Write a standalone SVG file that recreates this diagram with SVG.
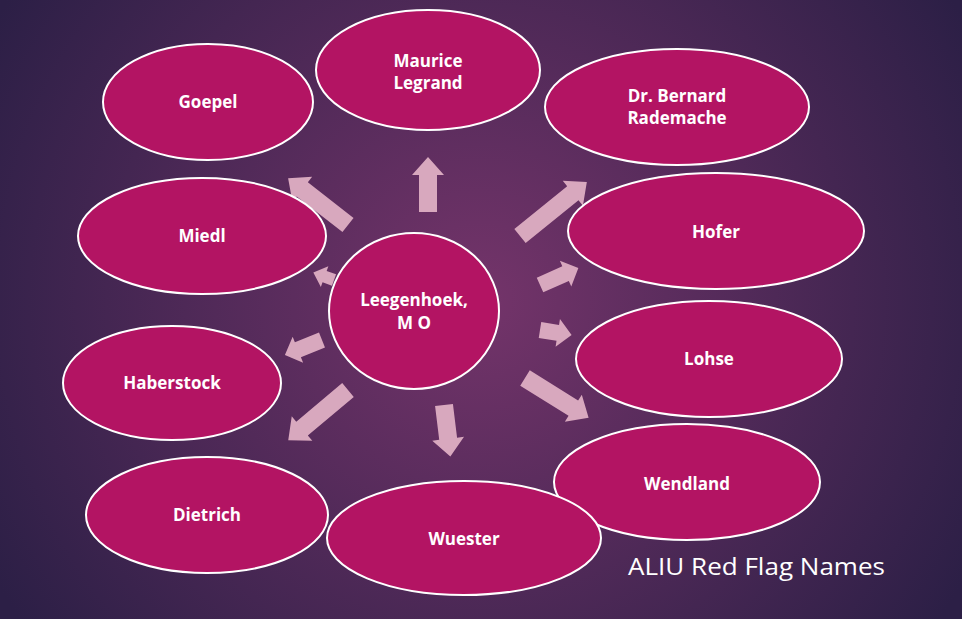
<svg xmlns="http://www.w3.org/2000/svg" width="962" height="619" viewBox="0 0 962 619">
<defs>
<radialGradient id="bg" cx="480" cy="300" r="560" gradientUnits="userSpaceOnUse">
<stop offset="0" stop-color="#74346a"/>
<stop offset="1" stop-color="#2c1f46"/>
</radialGradient>
<style>
.n{fill:#b31463;stroke:#fff;stroke-width:2}
.t{fill:#fff;font-family:"Open Sans","Liberation Sans",sans-serif;font-weight:bold;font-size:17px;text-anchor:middle}
.a{fill:#d8a8be}
</style>
</defs>
<rect width="962" height="619" fill="url(#bg)"/>
<g id="connectors">
<polygon class="a" transform="translate(428,212) rotate(-90)" points="0,-9 37,-9 37,-16 55,0 37,16 37,9 0,9"/>
<polygon class="a" transform="translate(348,225) rotate(-142)" points="0,-9 58,-9 58,-16 76,0 58,16 58,9 0,9"/>
<polygon class="a" transform="translate(520,236) rotate(-39)" points="0,-9 68,-9 68,-16 86,0 68,16 68,9 0,9"/>
<polygon class="a" transform="translate(540,285) rotate(-24)" points="0,-8 28,-8 28,-14 42,0 28,14 28,8 0,8"/>
<polygon class="a" transform="translate(540,330) rotate(9)" points="0,-8 18,-8 18,-14 32,0 18,14 18,8 0,8"/>
<polygon class="a" transform="translate(525,378) rotate(32)" points="0,-9 57,-9 57,-16 75,0 57,16 57,9 0,9"/>
<polygon class="a" transform="translate(444,405) rotate(83)" points="0,-9 34,-9 34,-16 52,0 34,16 34,9 0,9"/>
<polygon class="a" transform="translate(348,390) rotate(140)" points="0,-9 60,-9 60,-16 78,0 60,16 60,9 0,9"/>
<polygon class="a" transform="translate(322,340) rotate(158)" points="0,-8 26,-8 26,-14 40,0 26,14 26,8 0,8"/>
<polygon class="a" transform="translate(334,280) rotate(200)" points="0,-6 10,-6 10,-11 22,0 10,11 10,6 0,6"/>
</g>
<g id="goepel"><ellipse class="n" cx="208" cy="102" rx="105" ry="58"/><text class="t" x="208" y="108">Goepel</text></g>
<g id="legrand"><ellipse class="n" cx="428" cy="70" rx="112" ry="60"/><text class="t" x="428" y="67">Maurice</text><text class="t" x="428" y="89">Legrand</text></g>
<g id="rademache"><ellipse class="n" cx="677" cy="107" rx="132" ry="58"/><text class="t" x="677" y="102">Dr. Bernard</text><text class="t" x="677" y="124">Rademache</text></g>
<g id="hofer"><ellipse class="n" cx="716" cy="231" rx="148" ry="58"/><text class="t" x="716" y="238">Hofer</text></g>
<g id="lohse"><ellipse class="n" cx="709" cy="359" rx="133" ry="58"/><text class="t" x="709" y="365">Lohse</text></g>
<g id="wendland"><ellipse class="n" cx="687" cy="482" rx="133" ry="58"/><text class="t" x="687" y="490">Wendland</text></g>
<g id="wuester"><ellipse class="n" cx="464" cy="538" rx="137" ry="57"/><text class="t" x="464" y="545">Wuester</text></g>
<g id="dietrich"><ellipse class="n" cx="207" cy="515" rx="121" ry="58"/><text class="t" x="207" y="521">Dietrich</text></g>
<g id="haberstock"><ellipse class="n" cx="172" cy="383" rx="109" ry="57"/><text class="t" x="172" y="389">Haberstock</text></g>
<g id="miedl"><ellipse class="n" cx="202" cy="236" rx="124" ry="58"/><text class="t" x="202" y="242">Miedl</text></g>
<g id="center"><ellipse class="n" cx="414" cy="311" rx="85" ry="78"/><text class="t" x="414" y="306">Leegenhoek,</text><text class="t" x="414" y="329">M O</text></g>
<text x="628" y="575" fill="#fff" font-family="'Open Sans','Liberation Sans',sans-serif" font-size="24" textLength="257" lengthAdjust="spacingAndGlyphs">ALIU Red Flag Names</text>
</svg>
